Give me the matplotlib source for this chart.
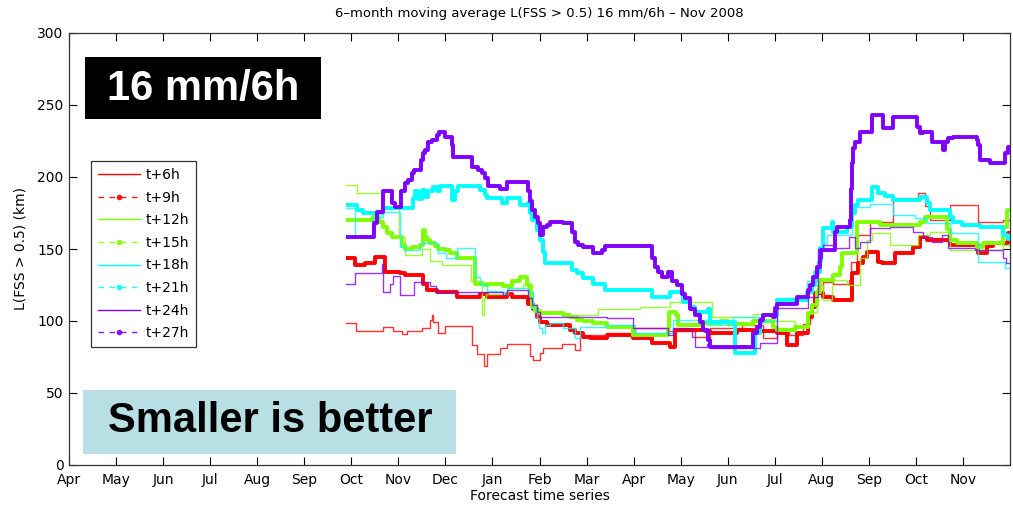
import matplotlib
matplotlib.use("Agg")
import matplotlib.pyplot as plt
from matplotlib.lines import Line2D
from matplotlib.patches import Rectangle

# ---------------- data (x = months since Apr 2007, value = L(FSS>0.5) km) -------------
month_labels = ["Apr", "May", "Jun", "Jul", "Aug", "Sep", "Oct", "Nov", "Dec", "Jan",
                "Feb", "Mar", "Apr", "May", "Jun", "Jul", "Aug", "Sep", "Oct", "Nov"]
x_end = 20.0

t06_x = [5.89, 6.10, 6.68, 6.89, 7.07, 7.18, 7.50, 7.67, 7.71, 7.74, 7.84, 7.99, 8.57, 8.67,
         8.82, 8.88, 9.16, 9.31, 9.80, 9.86, 10.01, 10.07, 10.48, 10.75, 10.86, 11.43, 12.03,
         12.73, 13.30, 13.62, 14.30, 14.75, 15.05, 15.30, 15.60, 15.75, 15.86, 16.02, 16.24,
         16.57, 16.62, 16.75, 17.02, 17.51, 18.05, 18.19, 18.30, 18.72, 19.32, 19.85]
t06_v = [98.6, 93, 95.8, 93, 91, 93, 95, 101, 104, 99, 92, 96.5, 83, 77,
         69, 77, 81, 84, 76, 73, 78, 81, 84, 80, 90, 92, 95,
         93, 89, 95, 97, 88, 94, 90, 98, 110, 119.5, 127, 126,
         128.5, 141, 160, 169, 185.4, 189, 180, 170, 180.5, 169, 170]

t09_x = [5.89, 6.08, 6.29, 6.50, 6.72, 7.04, 7.14, 7.52, 7.61, 7.82, 8.25, 8.74, 8.88, 9.31,
         9.41, 9.76, 9.86, 9.95, 10.01, 10.16, 10.65, 10.75, 10.92, 11.07, 11.43, 11.99, 12.39,
         12.77, 12.88, 13.52, 13.62, 14.20, 14.69, 15.05, 15.26, 15.47, 15.71, 15.79, 15.86,
         16.03, 16.24, 16.64, 16.77, 16.88, 16.96, 17.19, 17.28, 17.56, 17.94, 18.09, 18.24,
         18.72, 19.32, 19.51, 19.64, 19.96]
t09_v = [143.5, 139, 140, 144.4, 134, 133, 132, 126, 121.5, 120, 117, 119, 117, 119,
         117, 112, 108, 103, 99, 97, 94, 92, 89, 88, 90, 88, 85,
         82, 94, 93, 92, 94, 93, 92, 83, 92, 103, 110, 119.5,
         117, 114.5, 133, 140, 144.4, 148, 141, 140, 147, 151.5, 158, 156,
         153, 147, 152, 154, 161]

t12_x = [5.89, 6.12, 6.65, 6.68, 7.01, 7.14, 7.50, 7.67, 7.92, 8.55, 8.77, 8.82, 8.86, 9.33,
         9.65, 9.84, 9.95, 10.65, 11.25, 12.13, 12.77, 13.67, 14.54, 15.01, 15.43, 15.71, 15.90,
         16.03, 16.22, 16.54, 16.81, 16.96, 17.07, 17.45, 18.05, 18.30, 18.72, 19.85]
t12_v = [194.4, 189, 190, 178, 158, 146, 150, 142, 139, 128, 104, 116, 119, 123,
         126, 112, 105.5, 104, 108, 110, 113, 103, 105, 100, 96, 106, 125,
         114.5, 128.5, 125, 144, 156, 161, 153, 160, 162, 149, 153]

t15_x = [5.89, 6.46, 6.59, 6.67, 6.75, 6.86, 7.08, 7.14, 7.29, 7.46, 7.52, 7.57, 7.61, 7.67,
         7.78, 7.84, 7.99, 8.10, 8.25, 8.63, 8.84, 8.91, 9.22, 9.41, 9.59, 9.73, 9.80, 9.84,
         9.90, 10.01, 10.50, 10.65, 10.80, 10.92, 11.14, 11.43, 11.99, 12.73, 12.75, 12.90,
         12.95, 13.48, 13.86, 14.00, 14.54, 14.96, 15.05, 15.43, 15.71, 15.79, 15.90, 15.96,
         16.24, 16.39, 16.43, 16.75, 17.24, 18.09, 18.19, 18.66, 18.72, 18.87, 19.30, 19.43,
         19.85, 19.94]
t15_v = [170, 172, 169, 165, 161, 158, 153, 150, 151.5, 153, 163, 158, 156, 154,
         152, 150, 149, 147, 144, 126, 125, 126, 124, 128, 130.5, 125, 118, 110,
         107, 105.5, 104, 103, 101, 100, 98.6, 96, 90, 95, 106, 104,
         97, 98.6, 100, 98, 100, 96, 94, 96, 105.5, 111, 120, 128.5,
         132, 137.5, 147, 169, 166.7, 169, 172, 164, 156, 154, 151.5, 154,
         165, 177]

t18_x = [5.89, 6.08, 6.46, 6.67, 7.04, 7.14, 7.46, 7.84, 8.01, 8.25, 8.63, 8.74, 8.88, 9.20,
         9.31, 9.76, 9.86, 9.95, 9.99, 10.05, 10.12, 10.22, 10.50, 10.75, 10.86, 11.39, 12.03,
         12.84, 13.56, 14.11, 14.69, 15.05, 15.69, 15.90, 16.00, 16.11, 16.64, 17.02, 17.51,
         17.98, 18.24, 18.72, 19.32, 19.89]
t18_v = [178.5, 158, 172, 176, 151.5, 149, 154, 147, 144, 151, 130.5, 125, 121, 120,
         123, 120, 108, 102, 95, 92, 97, 98.6, 95, 88, 96, 97, 92,
         101, 97, 103, 100, 116, 128, 142, 154, 160, 179, 181, 173.6,
         171.5, 168, 161, 141, 137]

t21_x = [5.89, 6.12, 6.25, 6.67, 7.31, 7.35, 7.42, 7.50, 7.57, 7.63, 7.74, 7.82, 7.89, 8.14,
         8.20, 8.27, 8.74, 8.84, 8.88, 9.20, 9.31, 9.59, 9.76, 9.80, 9.84, 9.95, 10.01, 10.07,
         10.12, 10.69, 10.80, 10.92, 11.14, 11.39, 12.39, 12.77, 13.05, 13.20, 13.30, 13.58,
         13.62, 14.16, 14.58, 14.69, 14.75, 15.05, 15.69, 15.79, 15.86, 15.96, 16.03, 16.22,
         16.24, 16.54, 16.64, 16.71, 16.77, 17.07, 17.19, 17.34, 17.51, 18.09, 18.24, 18.30,
         18.72, 18.79, 18.98, 19.36, 19.85, 19.96]
t21_v = [180.5, 177, 175, 178.5, 185.5, 190, 185, 191, 186, 190, 193, 190, 194, 184,
         190, 194, 191, 187.5, 185.5, 182, 185.5, 180.5, 182, 175, 170, 163, 156, 148,
         140, 135.5, 133, 130, 126, 121.5, 117, 120, 113, 110, 106, 108,
         99, 78, 92, 99, 104, 114.5, 120, 125, 134, 151, 164.5, 169,
         162, 165, 175, 180.5, 184, 193, 189, 187, 184, 186, 182, 177,
         172, 169, 166.5, 165, 160, 157]

t24_x = [5.89, 6.08, 6.65, 6.68, 6.82, 6.89, 7.04, 7.33, 7.67, 7.81, 9.22, 9.31, 9.76, 9.84,
         9.95, 10.01, 11.43, 11.99, 12.73, 12.84, 13.24, 13.30, 13.56, 13.62, 14.69, 15.05,
         15.71, 15.92, 16.03, 16.24, 16.58, 16.70, 16.81, 17.02, 17.45, 17.94, 18.15, 18.34,
         18.55, 18.68, 19.26, 19.85, 19.92]
t24_v = [126, 133, 139.5, 120, 126, 131, 118, 127, 124, 120, 118, 121.5, 116, 111,
         106, 103, 102, 95, 90, 95, 89, 82, 84, 81, 85, 109,
         117, 150, 153, 151, 158, 151, 155, 164.5, 165, 162, 158, 155,
         160, 151, 149, 144, 140]

t27_x = [5.89, 6.48, 6.55, 6.67, 6.86, 6.92, 7.06, 7.14, 7.20, 7.29, 7.33, 7.48, 7.52, 7.57,
         7.63, 7.72, 7.82, 7.86, 7.99, 8.14, 8.17, 8.57, 8.69, 8.78, 8.84, 8.90, 9.16, 9.31,
         9.76, 9.80, 9.84, 9.90, 9.97, 10.01, 10.07, 10.16, 10.22, 10.50, 10.69, 10.75, 10.82,
         10.92, 11.14, 11.33, 11.39, 12.39, 12.45, 12.52, 12.60, 12.73, 12.81, 12.92, 13.03,
         13.09, 13.20, 13.30, 13.41, 13.48, 13.58, 13.62, 14.54, 14.62, 14.69, 14.75, 14.96,
         15.01, 15.05, 15.47, 15.71, 15.75, 15.81, 15.90, 15.96, 15.98, 16.28, 16.32, 16.60,
         16.62, 16.63, 16.64, 16.66, 16.71, 16.81, 17.07, 17.30, 17.51, 18.02, 18.09, 18.15,
         18.34, 18.58, 18.62, 18.68, 18.79, 19.30, 19.32, 19.36, 19.57, 19.89, 19.96]
t27_v = [158, 168, 176, 190, 182, 179, 190, 196, 198, 203, 205, 212, 217, 219,
         224, 226, 229, 231, 228, 222, 214, 207, 205, 203, 199, 194, 192, 196.5,
         190, 183, 177, 172, 168, 160, 165, 167, 169, 168, 162, 155, 153,
         151.5, 147, 149, 152, 144, 137.5, 134, 130.5, 134, 128, 125, 119,
         116, 108, 104, 99, 94, 87, 82, 92, 96, 101, 104, 103,
         109, 112, 117, 121.5, 125, 130.5, 137.5, 144, 149, 162, 165, 170,
         184, 192, 210, 220, 224, 231, 243, 234, 242, 235, 230.5, 231,
         224, 219, 224, 227, 228, 226, 222, 212, 210, 217, 221]

labels = ["t+6h", "t+9h", "t+12h", "t+15h", "t+18h", "t+21h", "t+24h", "t+27h"]
series_x = [t06_x, t09_x, t12_x, t15_x, t18_x, t21_x, t24_x, t27_x]
series_v = [t06_v, t09_v, t12_v, t15_v, t18_v, t21_v, t24_v, t27_v]

# ---------------- styles ----------------
RED, GREEN, CYAN, PURPLE = "#FF0000", "#80FF00", "#00FFFF", "#8000FF"
colors = [RED, RED, GREEN, GREEN, CYAN, CYAN, PURPLE, PURPLE]
dashed = [False, True, False, True, False, True, False, True]

plt.rcParams["font.family"] = ["DejaVu Sans"]
fig = plt.figure(figsize=(10.13, 5.05), dpi=100)
ax = fig.add_axes([69 / 1013, 1 - 465 / 505, 941 / 1013, 432 / 505])

for xs, vs, c, d in zip(series_x, series_v, colors, dashed):
    xx = list(xs) + [x_end]
    vv = list(vs) + [vs[-1]]
    if d:
        ax.step(xx, vv, where="post", color=c, lw=2.8, solid_capstyle="butt", zorder=3)
    else:
        ax.step(xx, vv, where="post", color=c, lw=1.0, alpha=0.8, zorder=3)

ax.set_xlim(0, 20)
ax.set_ylim(0, 300)
ax.set_xticks(range(len(month_labels)))
ax.set_xticklabels(month_labels, fontsize=10)
ax.set_yticks([0, 50, 100, 150, 200, 250, 300])
ax.set_yticklabels(["0", "50", "100", "150", "200", "250", "300"], fontsize=10)
ax.tick_params(direction="in", top=True, right=True, length=6, width=0.8)
ax.tick_params(axis="x", pad=6)
ax.tick_params(axis="y", pad=4)
for s in ax.spines.values():
    s.set_linewidth(0.9)
    s.set_color("#333333")

# legend proxies
handles = []
for c, d, lab in zip(colors, dashed, labels):
    if d:
        handles.append(Line2D([], [], color=c, lw=1.0, ls=(0, (4, 4)), marker=".",
                              markersize=6, alpha=0.9, label=lab))
    else:
        handles.append(Line2D([], [], color=c, lw=1.0, label=lab))
leg = fig.legend(handles=handles, loc="upper left",
                 bbox_to_anchor=(91 / 1013, 1 - 161 / 505), borderaxespad=0,
                 fontsize=10, handlelength=3.0, labelspacing=0.62, handletextpad=0.4,
                 borderpad=0.5, fancybox=False, framealpha=1, edgecolor="#333333")
leg.get_frame().set_linewidth(0.9)

# annotation boxes
fig.patches.append(Rectangle((85 / 1013, 1 - 119 / 505), 236 / 1013, 62 / 505,
                             transform=fig.transFigure, facecolor="black",
                             edgecolor="none", zorder=5))
fig.text(203 / 1013, 1 - 89 / 505, "16 mm/6h", color="white", fontsize=30,
         fontweight="bold", family=["Liberation Sans"], ha="center", va="center", zorder=6)
fig.patches.append(Rectangle((83 / 1013, 1 - 454 / 505), 373 / 1013, 64 / 505,
                             transform=fig.transFigure, facecolor="#B8DFE3",
                             edgecolor="none", zorder=5))
fig.text(270 / 1013, 1 - 421 / 505, "Smaller is better", color="black", fontsize=30,
         fontweight="bold", family=["Liberation Sans"], ha="center", va="center", zorder=6)

fig.text(539.5 / 1013, 1 - 14 / 505, "6\u2013month moving average L(FSS > 0.5) 16 mm/6h \u2013 Nov 2008",
         ha="center", va="center", fontsize=9.5)
fig.text(539.5 / 1013, 1 - 496 / 505, "Forecast time series", ha="center", va="center",
         fontsize=10)
fig.text(20 / 1013, 1 - 249 / 505, "L(FSS > 0.5) (km)", ha="center", va="center",
         rotation=90, fontsize=10)

fig.savefig("out.png", dpi=100)
